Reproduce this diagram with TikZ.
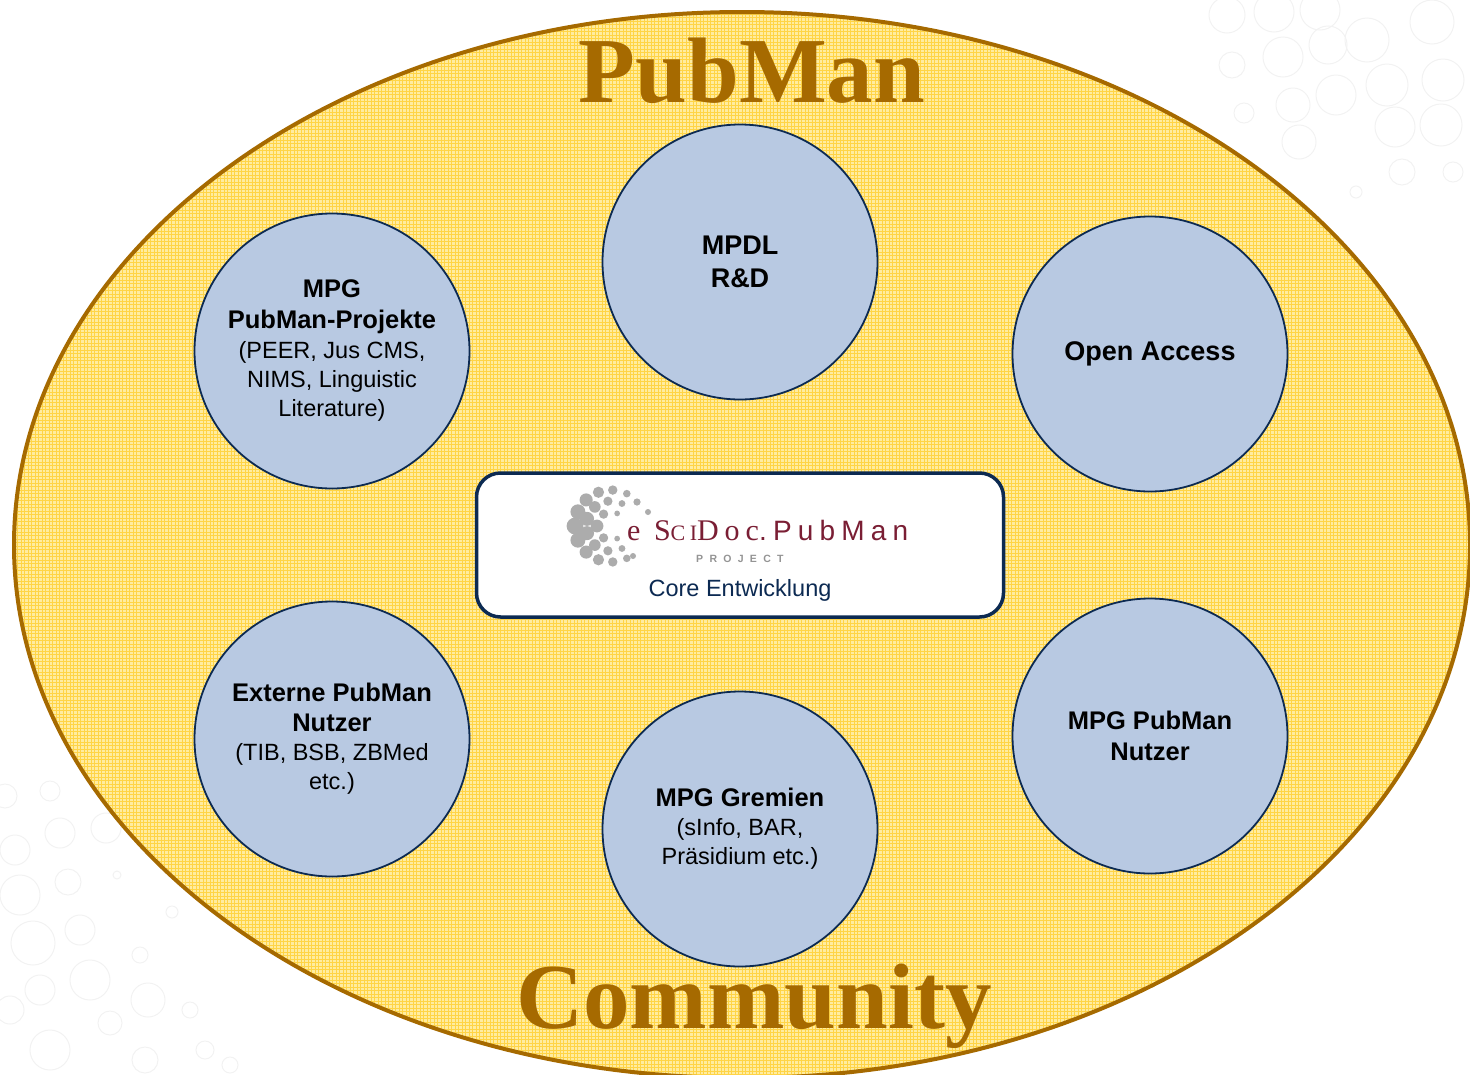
\documentclass[tikz,border=0pt]{standalone}
\usepackage{fontspec}
\setmainfont{Liberation Sans}
\newfontfamily\titlefont{Liberation Serif}
\newfontfamily\logoserif[LetterSpace=20]{Liberation Serif}
\newfontfamily\logosans[LetterSpace=22]{Liberation Sans}
\newfontfamily\projfont[LetterSpace=60]{Liberation Sans}
\usepackage{xcolor}
\usepackage{tikz}
\definecolor{pmbrown}{RGB}{166,106,0}
\definecolor{pmyellow}{RGB}{255,236,160}
\definecolor{pmgrid}{RGB}{255,212,70}
\definecolor{pmblue}{RGB}{184,201,226}
\definecolor{pmnavy}{RGB}{12,42,82}
\definecolor{logored}{RGB}{122,30,52}
\definecolor{logogray}{RGB}{172,172,172}
\newcommand\grouphead{\bfseries\fontsize{25.5}{31}\selectfont}
\newcommand\groupbig{\bfseries\fontsize{27}{33}\selectfont}

\begin{document}
\begin{tikzpicture}[x=1pt,y=-1pt,
  bubble/.style={draw=black!5,line width=1pt},
  group/.style={circle,draw=pmnavy,line width=1.8pt,fill=pmblue,minimum size=275pt,inner sep=0pt,align=center,font=\fontsize{23.5}{29}\selectfont},
  corebox/.style={draw=pmnavy,line width=3.5pt,fill=white,rounded corners=24pt,minimum width=527pt,minimum height=144pt},
  bigword/.style={text=pmbrown,font=\titlefont\bfseries\fontsize{93}{93}\selectfont,inner sep=0pt,anchor=base}]
\useasboundingbox (0,0) rectangle (1470,1074);
% bubbles behind
\foreach \bx/\by/\br in {1227/15/18,1274/12/20,1320/10/20,1367/40/22,1432/22/22,1283/57/20,1328/45/19,1232/65/13,1293/105/17,1336/95/20,1387/85/21,1443/80/21,1244/113/10,1299/142/17,1395/127/20,1441/125/21,1402/172/13,1356/192/6,1453/172/10}
  \draw[bubble] (\bx,\by) circle[radius=\br];
\foreach \bx/\by/\br in {5/796/12,50/791/10,60/833/15,15/850/15,106/828/15,20/895/20,68/882/13,117/875/4,33/943/22,80/930/15,90/980/20,40/990/15,148/1000/17,110/1023/12,50/1050/20,145/1060/13,172/912/6,190/1010/8,205/1050/9,230/1065/8,10/1010/14,140/955/8}
  \draw[bubble] (\bx,\by) circle[radius=\br];
% community ellipse
\begin{scope}
\clip (742,545) ellipse [x radius=728, y radius=533];
\fill[pmyellow] (0,0) rectangle (1470,1080);
\draw[pmgrid,line width=0.5pt] (0,0) grid[step=3.5pt] (1470,1080);
\end{scope}
\draw[pmbrown,line width=4pt] (742,545) ellipse [x radius=728, y radius=533];
\node[bigword] (pubman) at (752,102) {PubMan};
\node[bigword] (community) at (754,1028) {Community};
% groups
\node[group] (projekte) at (332,351) {\grouphead MPG\\[2pt]\grouphead PubMan-Projekte\\[1pt](PEER, Jus CMS,\\NIMS, Linguistic\\Literature)};
\node[group] (mpdl) at (740,262) {\groupbig MPDL\\[4pt]\groupbig R\&D};
\node[group] (oa) at (1150,354) {\groupbig Open Access};
\node[group] (extern) at (332,739) {\grouphead Externe PubMan\\[1pt]\grouphead Nutzer\\(TIB, BSB, ZBMed\\etc.)};
\node[group] (gremien) at (740,829) {\grouphead MPG Gremien\\(sInfo, BAR,\\Präsidium etc.)};
\node[group] (nutzer) at (1150,736) {\grouphead MPG PubMan\\[2pt]\grouphead Nutzer};
% core
\node[corebox] (core) at (740,545) {};
\foreach \rad/\num/\big in {36/10/8.4,25/7/7.6,14/4/6.4}
  \foreach \i in {0,...,\num}{
    \pgfmathsetmacro\ang{64+232*\i/\num}
    \pgfmathsetmacro\sz{\big*(1-0.55*abs(\ang-180)/116)}
    \fill[logogray] (611,526) ++(\ang:\rad) circle[radius=\sz];
  }
\foreach \dx/\dy/\dr in {637/502/3.6,648/512/3,633/556/3}
  \fill[logogray] (\dx,\dy) circle[radius=\dr];
\node[text=logored,anchor=base west,inner sep=0pt] (logo) at (627,540) {\logoserif\fontsize{30}{30}\selectfont e S\fontsize{22}{22}\selectfont CI\fontsize{30}{30}\selectfont Doc\logosans\fontsize{28}{28}\selectfont .PubMan};
\node[text=black!42,anchor=base west,inner sep=0pt] (project) at (696,562) {\projfont\bfseries\fontsize{10.5}{10.5}\selectfont PROJECT};
\node[text=pmnavy,font=\fontsize{23.5}{28}\selectfont] (entw) at (740,590) {Core Entwicklung};
\end{tikzpicture}
\end{document}
